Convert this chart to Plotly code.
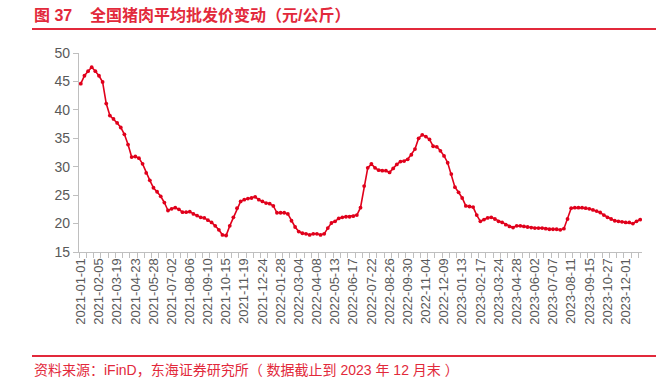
import pandas as pd
import plotly.graph_objects as go

# ---- data ----
start_date = "2021-01-01"
end_date = "2023-12-29"
skipped_weeks = ["2021-02-12", "2023-10-06"]
dates = [d.strftime("%Y-%m-%d") for d in pd.date_range(start_date, end_date, freq="W-FRI")]
dates = [d for d in dates if d not in skipped_weeks]

prices = [
    44.6, 46.0, 46.8, 47.5, 46.8, 46.0, 44.9, 41.1, 39.0, 38.4,
    37.7, 36.9, 35.7, 33.9, 31.7, 31.8, 31.5, 30.5, 28.9, 27.6,
    26.3, 25.6, 24.8, 23.7, 22.3, 22.6, 22.8, 22.5, 22.0, 22.0,
    22.1, 21.7, 21.4, 21.1, 21.0, 20.6, 20.2, 19.6, 18.9, 18.0,
    17.9, 19.6, 21.1, 22.7, 23.9, 24.2, 24.4, 24.5, 24.7, 24.2,
    23.9, 23.6, 23.5, 23.1, 21.9, 21.9, 21.9, 21.7, 20.5, 19.4,
    18.6, 18.3, 18.2, 18.0, 18.2, 18.2, 18.0, 18.2, 19.2, 20.1,
    20.4, 20.9, 21.1, 21.2, 21.2, 21.3, 21.5, 22.8, 26.6, 29.8,
    30.5, 29.8, 29.4, 29.3, 29.3, 29.0, 29.7, 30.4, 30.9, 31.0,
    31.3, 32.1, 33.1, 35.0, 35.6, 35.3, 34.8, 33.6, 33.5, 32.8,
    31.9, 30.7, 28.7, 26.4, 25.5, 24.5, 23.1, 23.0, 22.9, 21.5,
    20.4, 20.7, 21.0, 21.1, 20.8, 20.4, 20.2, 19.8, 19.5, 19.3,
    19.6, 19.6, 19.5, 19.4, 19.3, 19.2, 19.2, 19.2, 19.1, 19.0,
    19.0, 19.0, 18.9, 19.1, 20.8, 22.7, 22.8, 22.8, 22.8, 22.7,
    22.6, 22.4, 22.2, 21.95, 21.5, 21.1, 20.8, 20.5, 20.4, 20.3,
    20.2, 20.2, 20.0, 20.4, 20.7,
]
label_every = 5
tick_labels = dates[::label_every]
y_ticks = [15, 20, 25, 30, 35, 40, 45, 50]

title_text = "图 37\u00a0\u00a0\u00a0\u00a0全国猪肉平均批发价变动（元/公斤）"
source_text = "资料来源：iFinD，东海证券研究所（\u00a0数据截止到 2023 年 12 月末\u00a0）"

# ---- figure ----
RED = "#E0001B"
ACCENT = "#E2293B"
GRAY_TXT = "#595959"
AXIS = "#BFBFBF"
FONT = "Liberation Sans, Arial, Noto Sans CJK SC, sans-serif"

W, H = 668, 388
L, R, T, B = 79, 26, 53, 136
pw, ph = W - L - R, H - T - B

def px_x(x):
    return (x - L) / pw

def px_y(y):
    return (H - B - y) / ph

fig = go.Figure()
fig.add_trace(go.Scatter(
    x=dates, y=prices, mode="lines+markers",
    line=dict(color=RED, width=1.6),
    marker=dict(color=RED, size=3.8, symbol="circle"),
    showlegend=False, hoverinfo="x+y",
))

n = len(dates)
fig.update_layout(
    width=W, height=H,
    margin=dict(l=L, r=R, t=T, b=B, pad=0),
    paper_bgcolor="white", plot_bgcolor="white",
    font=dict(family=FONT, color=GRAY_TXT),
    xaxis=dict(
        type="category", categoryorder="array", categoryarray=dates,
        range=[-0.5, n - 0.5], tickmode="array", tickvals=tick_labels,
        ticktext=tick_labels, tickangle=-90, ticks="",
        tickfont=dict(size=13, color=GRAY_TXT, family=FONT),
        showline=True, linecolor=AXIS, linewidth=1.3,
        showgrid=False, zeroline=False,
    ),
    xaxis2=dict(
        overlaying="x", type="linear", range=[-0.5, n - 0.5],
        tick0=-0.5, dtick=2, ticks="outside", ticklen=5, tickcolor=AXIS,
        tickwidth=1, showticklabels=False, showgrid=False, zeroline=False,
        showline=False, side="bottom", anchor="y",
    ),
    yaxis=dict(
        range=[15, 50], tickmode="array", tickvals=y_ticks,
        ticks="outside", ticklen=5, tickcolor=AXIS,
        tickfont=dict(size=14, color=GRAY_TXT, family=FONT),
        showline=True, linecolor=AXIS, linewidth=1.3,
        showgrid=False, zeroline=False,
    ),
)

# invisible helper trace so the tick-mark axis is drawn
fig.add_trace(go.Scatter(x=[-0.5, n - 0.5], y=[15, 15], xaxis="x2", mode="lines",
                         line=dict(width=0), opacity=0, showlegend=False, hoverinfo="skip"))

fig.add_annotation(text=f"<b>{title_text}</b>", xref="paper", yref="paper",
                   x=px_x(32), y=px_y(15), xanchor="left", yanchor="middle",
                   showarrow=False, font=dict(size=16, color=ACCENT, family=FONT))
fig.add_annotation(text=source_text, xref="paper", yref="paper",
                   x=px_x(32), y=px_y(370), xanchor="left", yanchor="middle",
                   showarrow=False, font=dict(size=14, color=ACCENT, family=FONT))
fig.add_shape(type="line", xref="paper", yref="paper",
              x0=px_x(32), x1=px_x(656), y0=px_y(29), y1=px_y(29),
              line=dict(color=ACCENT, width=2))
fig.add_shape(type="line", xref="paper", yref="paper",
              x0=px_x(32), x1=px_x(656), y0=px_y(356), y1=px_y(356),
              line=dict(color=ACCENT, width=2))

fig.write_html("out.html", config={"displayModeBar": False},
               post_script="document.body.style.margin='0';")
